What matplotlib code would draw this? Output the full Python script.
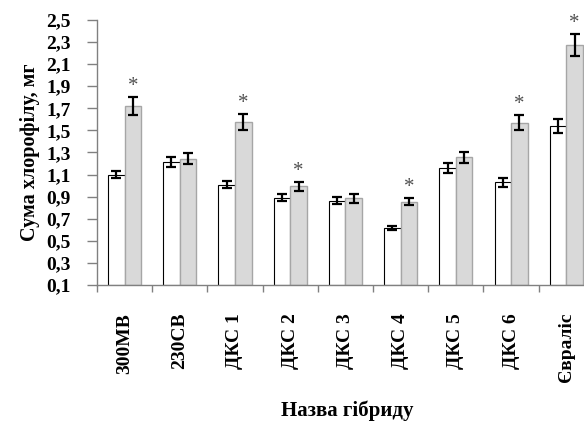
import numpy as np
import matplotlib.pyplot as plt

plt.rcParams['font.family'] = ['Liberation Serif', 'DejaVu Serif']

hybrids = ['300МВ', '230СВ', 'ДКС 1', 'ДКС 2', 'ДКС 3', 'ДКС 4', 'ДКС 5', 'ДКС 6', 'Євраліс']
control = [1.10, 1.215, 1.01, 0.89, 0.865, 0.615, 1.16, 1.03, 1.54]
control_err = [0.03, 0.045, 0.03, 0.03, 0.03, 0.018, 0.045, 0.04, 0.06]
treated = [1.72, 1.245, 1.575, 0.995, 0.887, 0.855, 1.255, 1.57, 2.27]
treated_err = [0.08, 0.05, 0.07, 0.04, 0.04, 0.03, 0.053, 0.067, 0.10]
signif = [True, False, True, True, False, True, False, True, True]
yticks = [0.1, 0.3, 0.5, 0.7, 0.9, 1.1, 1.3, 1.5, 1.7, 1.9, 2.1, 2.3, 2.5]

fig = plt.figure(figsize=(5.84, 4.23), dpi=100)
ax = fig.add_axes([0.166, 0.326, 0.834, 0.627])

x = np.arange(len(hybrids))
w = 0.3
base = 0.1
ax.bar(x - w / 2, np.array(control) - base, w, bottom=base, color='white',
       edgecolor='black', linewidth=0.8)
ax.bar(x + w / 2, np.array(treated) - base, w, bottom=base, color='#d9d9d9',
       edgecolor='#a6a6a6', linewidth=1.0)
ax.errorbar(x - w / 2, control, yerr=control_err, fmt='none', ecolor='black',
            elinewidth=1.6, capsize=3.5, capthick=1.6)
ax.errorbar(x + w / 2, treated, yerr=treated_err, fmt='none', ecolor='black',
            elinewidth=1.6, capsize=3.5, capthick=1.6)
for xi, t, e, s in zip(x, treated, treated_err, signif):
    if s:
        ax.text(xi + w / 2, t + e + 0.01, '*', ha='center', va='bottom',
                fontsize=15, color='#505050')

ax.set_xlim(-0.5, 8.32)
ax.set_ylim(0.1, 2.5)
ax.set_yticks(yticks)
ax.set_yticklabels([f'{v:.1f}'.replace('.', ',') for v in yticks],
                   fontsize=14, fontweight='bold')
ax.set_xticks(x)
ax.set_xticklabels(hybrids, rotation=90, fontsize=14, fontweight='bold')
ax.set_xticks(np.arange(len(hybrids)) - 0.5, minor=True)
ax.tick_params(axis='x', which='major', length=0, pad=20)
ax.tick_params(axis='x', which='minor', length=5, color='#808080', width=1)
ax.tick_params(axis='y', length=7, color='#808080', width=1, pad=12)

for side in ['top', 'right']:
    ax.spines[side].set_visible(False)
for side in ['left', 'bottom']:
    ax.spines[side].set_color('#808080')
    ax.spines[side].set_linewidth(1)

ax.set_ylabel('Сума хлорофілу, мг', fontsize=14.5, fontweight='bold', labelpad=4)
fig.text(0.594, 0.03, 'Назва гібриду', fontsize=15, fontweight='bold',
         ha='center', va='center')

plt.savefig('out.png', dpi=100)
